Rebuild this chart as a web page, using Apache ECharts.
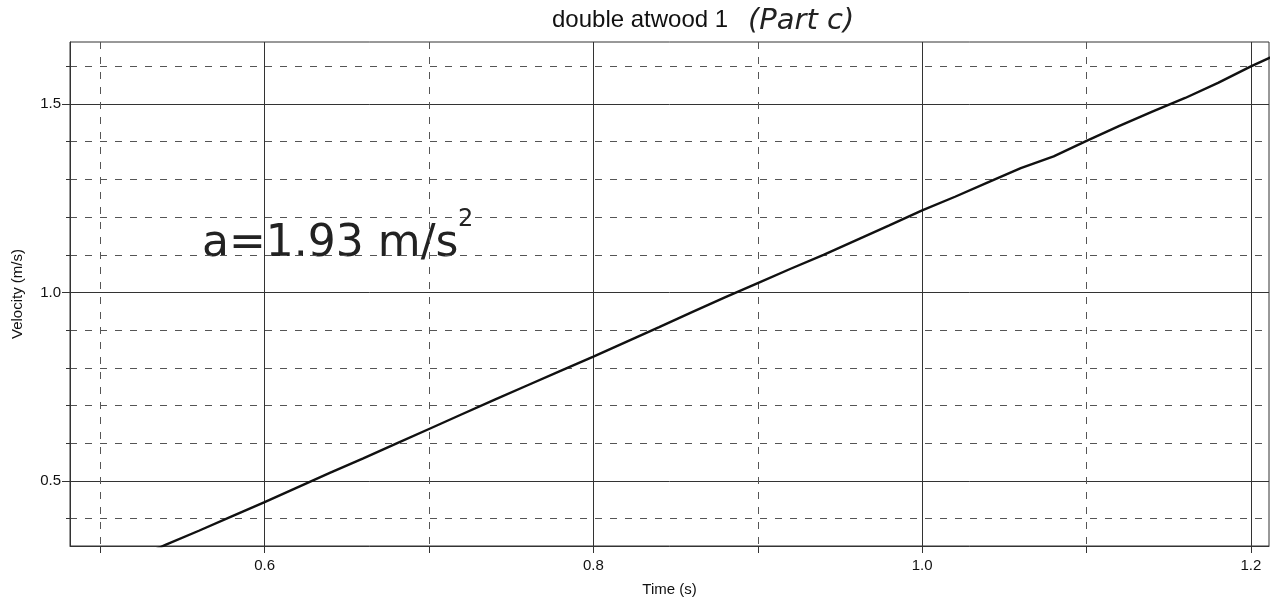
<!DOCTYPE html>
<html><head><meta charset="utf-8">
<script src="https://cdn.jsdelivr.net/npm/echarts@6/dist/echarts.min.js"></script>
<style>html,body{margin:0;padding:0;background:#fff}#c{width:1270px;height:603px}</style>
</head><body><div id="c"></div>
<script>
const chartTitle = 'double atwood 1';
const titleNote = '(Part c)';
const annotationMain = 'a=1.93 m/s';
const annotationSup = '2';
const xName = 'Time (s)';
const yName = 'Velocity (m/s)';

const timeValues = [0.52,0.54,0.56,0.58,0.60,0.62,0.64,0.66,0.68,0.70,0.72,0.74,0.76,0.78,0.80,0.82,0.84,0.86,0.88,0.90,0.92,0.94,0.96,0.98,1.00,1.02,1.04,1.06,1.08,1.10,1.12,1.14,1.16,1.18,1.20,1.22];
const velocityValues = [0.292,0.331,0.368,0.406,0.444,0.483,0.522,0.560,0.599,0.638,0.677,0.716,0.754,0.792,0.830,0.869,0.908,0.948,0.987,1.025,1.063,1.100,1.139,1.178,1.218,1.254,1.292,1.330,1.361,1.402,1.442,1.480,1.516,1.556,1.600,1.640];

const xMajorTicks = [0.6, 0.8, 1.0, 1.2];
const xMinorTicks = [0.5, 0.7, 0.9, 1.1];
const yMajorTicks = [0.5, 1.0, 1.5];
const yMinorTicks = [0.4, 0.6, 0.7, 0.8, 0.9, 1.1, 1.2, 1.3, 1.4, 1.6];
const xRange = [0.4816, 1.211];
const yRange = [0.3276, 1.6645];

const font = 'Liberation Sans, Arial, sans-serif';
const chart = echarts.init(document.getElementById('c'), null, {renderer: 'canvas'});

const seriesData = timeValues.map((t, i) => [t, velocityValues[i]]);

function xAxisCfg(ticks, major) {
  return {
    type: 'value', min: xRange[0], max: xRange[1], position: 'bottom',
    name: major ? xName : '', nameLocation: 'middle', nameGap: 36,
    nameTextStyle: {fontFamily: font, fontSize: 15, color: '#111'},
    axisLine: {show: major, onZero: false, lineStyle: {color: '#333', width: 1}},
    axisTick: {show: true, customValues: ticks, length: 7, lineStyle: {color: '#333'}},
    axisLabel: {show: major, customValues: ticks, formatter: v => v.toFixed(1), fontFamily: font, fontSize: 15, color: '#111', margin: 12},
    splitLine: {show: true, lineStyle: {color: major ? '#333' : '#555', width: 1, type: major ? 'solid' : [7, 8]}}
  };
}
function yAxisCfg(ticks, major) {
  return {
    type: 'value', min: yRange[0], max: yRange[1], position: 'left',
    name: major ? yName : '', nameLocation: 'middle', nameGap: 45, nameRotate: 90,
    nameTextStyle: {fontFamily: font, fontSize: 15, color: '#111'},
    axisLine: {show: major, onZero: false, lineStyle: {color: '#333', width: 1}},
    axisTick: {show: true, customValues: ticks, length: major ? 8 : 4, lineStyle: {color: '#333'}},
    axisLabel: {show: major, customValues: ticks, formatter: v => v.toFixed(1), fontFamily: font, fontSize: 15, color: '#111', margin: 9},
    splitLine: {show: true, lineStyle: {color: major ? '#333' : '#555', width: 1, type: major ? 'solid' : [7, 8]}}
  };
}

chart.setOption({
  animation: false,
  backgroundColor: '#fff',
  grid: {left: 70, top: 42, right: 1, bottom: 57, show: true, borderColor: '#333', borderWidth: 1, backgroundColor: 'transparent'},
  xAxis: [xAxisCfg(xMajorTicks, true), xAxisCfg(xMinorTicks, false)],
  yAxis: [yAxisCfg(yMajorTicks, true), yAxisCfg(yMinorTicks, false)],
  series: [{
    type: 'line', xAxisIndex: 0, yAxisIndex: 0, data: seriesData,
    showSymbol: false, symbol: 'none', clip: true,
    lineStyle: {color: '#111', width: 2.4}
  }],
  graphic: [
    {type: 'text', left: 552, top: 8, style: {text: chartTitle, font: '24px ' + font, fill: '#111'}},
    {type: 'text', left: 748, top: 7, style: {text: titleNote, font: 'italic 29px "DejaVu Sans", sans-serif', fill: '#222'}},
    {type: 'text', left: 202, top: 223, style: {text: annotationMain, font: '44px "DejaVu Sans", sans-serif', fill: '#222'}},
    {type: 'text', left: 458, top: 208, style: {text: annotationSup, font: '24px "DejaVu Sans", sans-serif', fill: '#222'}}
  ]
});
</script></body></html>
